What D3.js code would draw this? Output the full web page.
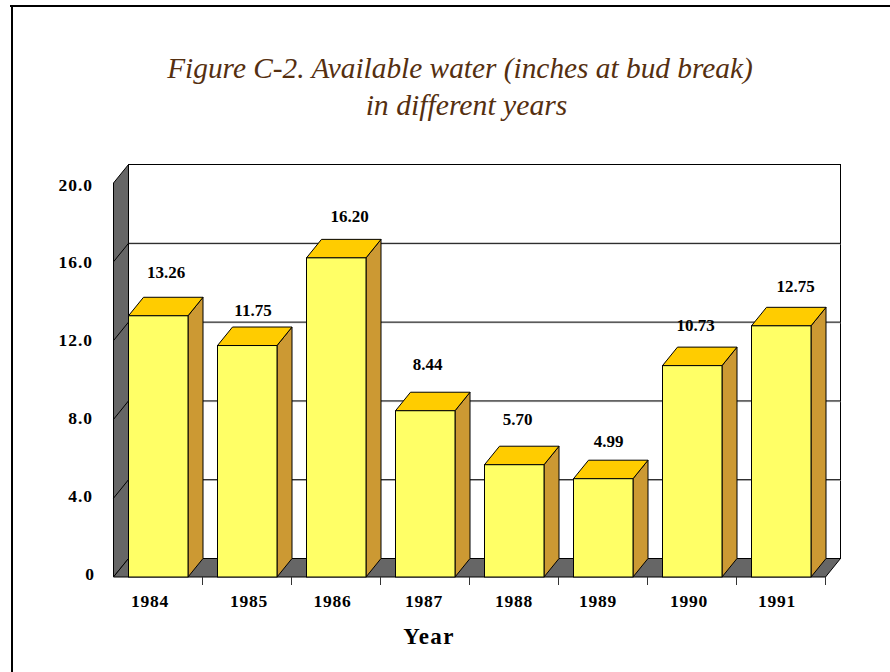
<!DOCTYPE html>
<html><head><meta charset="utf-8">
<script src="https://cdn.jsdelivr.net/npm/d3@7"></script>
<style>html,body{margin:0;padding:0;background:#fff}svg{display:block}text{font-family:"Liberation Serif",serif}</style>
</head><body><div id="c"></div>
<script>
const years=["1984","1985","1986","1987","1988","1989","1990","1991"];
const values=[13.26,11.75,16.20,8.44,5.70,4.99,10.73,12.75];
const valueLabels=["13.26","11.75","16.20","8.44","5.70","4.99","10.73","12.75"];
const yTicks=[0,4,8,12,16,20];
const titleLines=["Figure C-2. Available water (inches at bud break)","in different years"];
const xTitle="Year";

// hand-placed label nudges seen in the source chart
const labelDx=[38,36,43.5,32.5,33.5,35.5,33.5,44.5];
const labelDy=[-19.5,-11,-17,-22,-21,-13,-16,-15.5];
const yearDx=[-8,2,-3.5,-1,0,-5,-3,-4];
const titleX=[460,466.5];
const titleSize=[29.35,29.7];
const titleY=[78,114.5];

const W=890,H=672,DX=15,DY=18.5,BW=59.5;
const x=d3.scaleBand().domain(years).range([113.5,825.5]);
const y=d3.scaleLinear().domain([0,20]).range([577,183]);
const svg=d3.select("#c").append("svg").attr("width",W).attr("height",H);

// outer frame
svg.append("path").attr("d",`M10,6H${W}M12,6V${H}`).attr("fill","none").attr("stroke","#000").attr("stroke-width",2);

svg.append("g").selectAll("text").data(titleLines).join("text")
  .attr("x",(d,i)=>titleX[i]).attr("y",(d,i)=>titleY[i]).attr("text-anchor","middle")
  .attr("font-style","italic").attr("font-size",(d,i)=>titleSize[i]).attr("fill","#552f10").text(d=>d);

const x0=x.range()[0],x1=x.range()[1],y0=y(0),yTop=y(20);
const K="#000";
// back wall
svg.append("rect").attr("x",x0+DX).attr("y",yTop-DY).attr("width",x1-x0).attr("height",y0-yTop)
  .attr("fill","#fff").attr("stroke",K);
// gridlines with a soft shadow
const grid=svg.append("g");
grid.selectAll(".s").data(yTicks.slice(1,-1)).join("line").attr("class","s")
  .attr("x1",x0+DX).attr("x2",x1+DX).attr("y1",d=>y(d)-DY+0.8).attr("y2",d=>y(d)-DY+0.8).attr("stroke","#ccc");
grid.selectAll(".l").data(yTicks.slice(1,-1)).join("line").attr("class","l")
  .attr("x1",x0+DX).attr("x2",x1+DX).attr("y1",d=>y(d)-DY).attr("y2",d=>y(d)-DY).attr("stroke",K);
// left wall
svg.append("path").attr("d",`M${x0},${yTop}L${x0+DX},${yTop-DY}V${y0-DY}L${x0},${y0}Z`)
  .attr("fill","#666").attr("stroke",K);
svg.append("g").selectAll("line").data(yTicks.slice(1,-1)).join("line")
  .attr("x1",x0).attr("x2",x0+DX).attr("y1",d=>y(d)).attr("y2",d=>y(d)-DY).attr("stroke",K);
// floor
svg.append("path").attr("d",`M${x0},${y0}L${x0+DX},${y0-DY}H${x1+DX}L${x1},${y0}Z`)
  .attr("fill","#666").attr("stroke",K);
// x axis ticks at band edges
const edges=years.map(d=>x(d)+x.bandwidth());
svg.append("g").selectAll("line").data(edges).join("line")
  .attr("x1",d=>d).attr("x2",d=>d).attr("y1",y0).attr("y2",y0+8).attr("stroke","#333");

// bars
const bars=svg.append("g").selectAll("g").data(years).join("g");
const bx=d=>x(d)+DX;
const vy=(d,i)=>y(values[i]);
bars.append("path").attr("fill","#cc9933").attr("stroke",K)
  .attr("d",(d,i)=>`M${bx(d)+BW},${vy(d,i)}l${DX},${-DY}V${y0-DY}L${bx(d)+BW},${y0}Z`);
bars.append("path").attr("fill","#ffcc00").attr("stroke",K)
  .attr("d",(d,i)=>`M${bx(d)},${vy(d,i)}l${DX},${-DY}h${BW}l${-DX},${DY}Z`);
bars.append("rect").attr("fill","#ffff66").attr("stroke",K)
  .attr("x",bx).attr("y",vy).attr("width",BW).attr("height",(d,i)=>y0-vy(d,i));

// value labels
svg.append("g").selectAll("text").data(years).join("text")
  .attr("x",(d,i)=>bx(d)+labelDx[i]-0.5).attr("y",(d,i)=>vy(d,i)-DY+labelDy[i])
  .attr("text-anchor","middle").attr("font-weight","bold").attr("font-size",17).attr("fill","#000")
  .text((d,i)=>valueLabels[i]);

// y axis labels via d3 axis
const yLabel=d3.scaleLinear().domain([0,20]).range([579,190]);
const ya=svg.append("g").attr("transform",`translate(${x0},0)`)
  .call(d3.axisLeft(yLabel).tickValues(yTicks).tickSize(0).tickPadding(21).tickFormat(d=>d===0?"0":d3.format(".1f")(d)));
ya.select(".domain").remove();
ya.selectAll("text").attr("font-family","Liberation Serif").attr("font-weight","bold").attr("font-size",17.5).attr("letter-spacing",1).attr("fill","#000").attr("dy",0)
  .attr("dx",d=>d===0?2.5:0.5);

// x labels
svg.append("g").selectAll("text").data(years).join("text")
  .attr("x",(d,i)=>x(d)+x.bandwidth()/2+yearDx[i]).attr("y",606.5)
  .attr("text-anchor","middle").attr("font-weight","bold").attr("font-size",17.5).attr("letter-spacing",0.8).text(d=>d);
svg.append("text").attr("x",429).attr("y",644).attr("text-anchor","middle")
  .attr("font-weight","bold").attr("font-size",23).attr("letter-spacing",1.4).text(xTitle);
</script></body></html>
